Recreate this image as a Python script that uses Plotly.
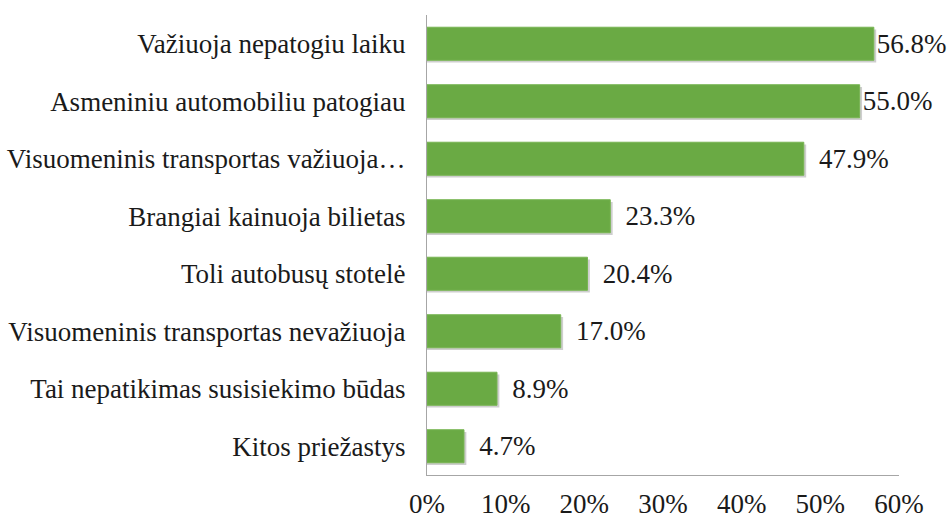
import plotly.graph_objects as go

categories = [
    "Važiuoja nepatogiu laiku",
    "Asmeniniu automobiliu patogiau",
    "Visuomeninis transportas važiuoja…",
    "Brangiai kainuoja bilietas",
    "Toli autobusų stotelė",
    "Visuomeninis transportas nevažiuoja",
    "Tai nepatikimas susisiekimo būdas",
    "Kitos priežastys",
]
values = [56.8, 55.0, 47.9, 23.3, 20.4, 17.0, 8.9, 4.7]
x_ticks = [0, 10, 20, 30, 40, 50, 60]
x_tick_labels = ["0%", "10%", "20%", "30%", "40%", "50%", "60%"]

FONT = "Liberation Serif, Times New Roman, serif"

# labels near the right edge sit closer to their bar, like in Excel
labels = [(" " if v < 55 else "") + ("\u2009" if v < 50 else "") + f"{v:.1f}%" for v in values]

fig = go.Figure()
# soft drop shadow under each bar
fig.add_trace(go.Bar(
    y=categories, x=[v + 0.3 for v in values], orientation="h",
    marker=dict(color="rgba(60,60,60,0.25)", line=dict(width=0)),
    width=0.575, offset=-0.25, hoverinfo="skip",
))
fig.add_trace(go.Bar(
    y=categories, x=values, orientation="h",
    marker=dict(color="#6AAA44", line=dict(color="#78B552", width=1)),
    width=0.575, offset=-0.2875,
    text=labels, textposition="outside",
    textfont=dict(family=FONT, size=27, color="#1a1a1a"),
    cliponaxis=False,
))

fig.update_layout(
    width=950, height=518,
    margin=dict(l=427, r=51, t=15, b=43),
    plot_bgcolor="white", paper_bgcolor="white",
    showlegend=False, barmode="overlay",
    font=dict(family=FONT, size=27, color="#1a1a1a"),
    xaxis=dict(range=[0, 60], tickvals=x_ticks, ticktext=x_tick_labels,
               showgrid=False, zeroline=False, showline=True, automargin=False,
               linecolor="#A6A6A6", linewidth=1, ticks="", ticklabelstandoff=5),
    yaxis=dict(autorange="reversed", showgrid=False, zeroline=False, automargin=False,
               showline=True, linecolor="#A6A6A6", linewidth=1, ticks="",
               ticklabelstandoff=15),
)

fig.write_html("out.html", config={"displayModeBar": False},
               post_script="document.body.style.margin='0';")
